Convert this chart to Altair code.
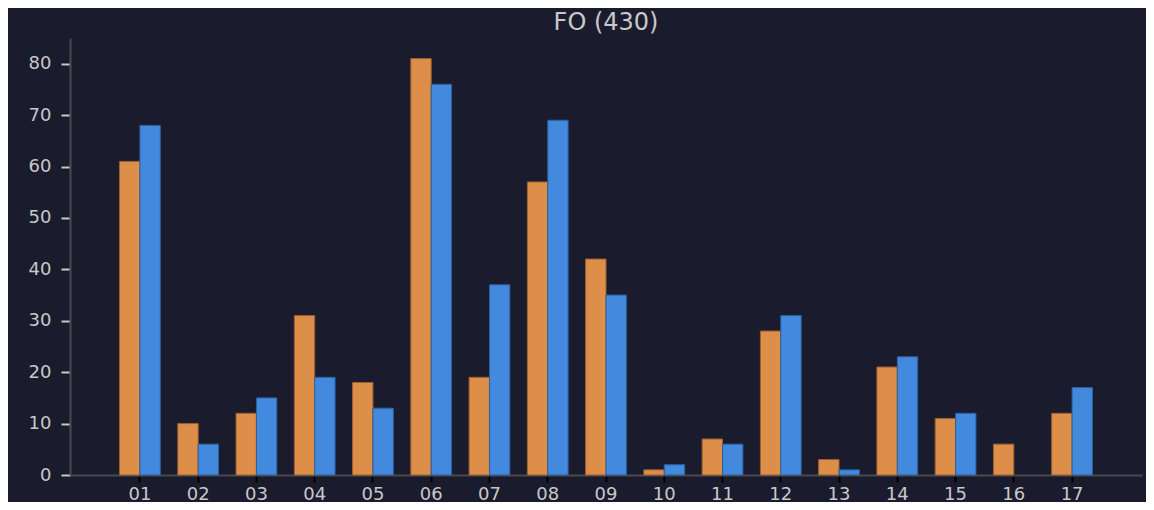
import altair as alt
import pandas as pd

categories = ["01", "02", "03", "04", "05", "06", "07", "08", "09",
              "10", "11", "12", "13", "14", "15", "16", "17"]
series_a = [61, 10, 12, 31, 18, 81, 19, 57, 42, 1, 7, 28, 3, 21, 11, 6, 12]
series_b = [68, 6, 15, 19, 13, 76, 37, 69, 35, 2, 6, 31, 1, 23, 12, 0, 17]
series_names = ["A", "B"]
title_text = "FO (430)"
y_ticks = [0, 10, 20, 30, 40, 50, 60, 70, 80]

rows = []
for c, a, b in zip(categories, series_a, series_b):
    rows.append({"cat": c, "series": series_names[0], "value": a})
    rows.append({"cat": c, "series": series_names[1], "value": b})
df = pd.DataFrame(rows)

BG = "#1b1b2e"
LABEL = "#c8c8c8"

chart = alt.Chart(df).mark_bar(strokeWidth=1).encode(
    x=alt.X("cat:N", sort=categories, title=None,
            scale=alt.Scale(paddingInner=0.3, paddingOuter=0.85),
            axis=alt.Axis(labelAngle=0, labelFontSize=18, labelColor=LABEL,
                          labelFont="DejaVu Sans", tickColor="#000000",
                          tickSize=7, tickWidth=2, labelPadding=3,
                          domainColor="#4a4a4a", domainWidth=2,
                          bandPosition=0.5)),
    xOffset=alt.XOffset("series:N", sort=series_names,
                        scale=alt.Scale(paddingInner=0, paddingOuter=0)),
    y=alt.Y("value:Q", title=None,
            scale=alt.Scale(domain=[0, 85], nice=False),
            axis=alt.Axis(values=y_ticks, labelFontSize=18, labelColor=LABEL,
                          labelFont="DejaVu Sans", tickColor=LABEL,
                          tickSize=9, tickWidth=2, labelPadding=10,
                          domainColor="#4a4a4a", domainWidth=2, grid=False)),
    color=alt.Color("series:N", sort=series_names, legend=None,
                    scale=alt.Scale(domain=series_names, range=["#dd8e48", "#438ade"])),
    stroke=alt.Stroke("series:N", sort=series_names, legend=None,
                      scale=alt.Scale(domain=series_names, range=["#9c6030", "#2c5f9e"])),
    strokeOpacity=alt.condition("datum.value == 0", alt.value(0), alt.value(1)),
).properties(
    width=1072,
    height=437,
    title=alt.TitleParams(title_text, fontSize=24, color=LABEL, font="DejaVu Sans",
                          fontWeight="normal", anchor="middle", offset=3),
    background=BG,
    autosize=alt.AutoSizeParams(type="none"),
    padding={"left": 62, "top": 30, "right": 4, "bottom": 27},
).configure_view(stroke=None).configure_axis(labelFontWeight="normal")

chart.save("out.html", embed_options={"renderer": "svg", "actions": False})
